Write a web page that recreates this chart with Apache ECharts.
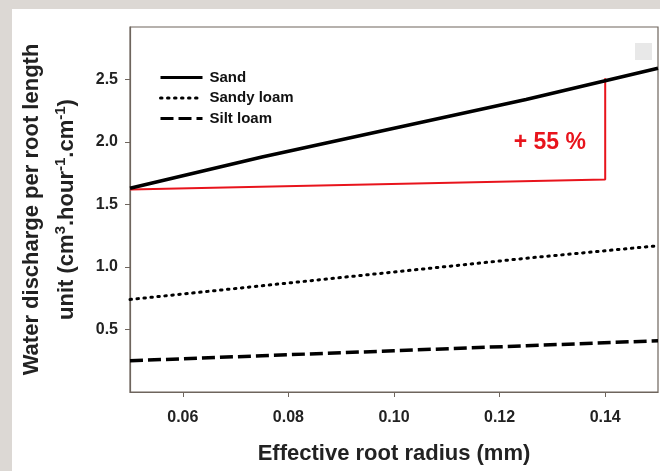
<!DOCTYPE html>
<html>
<head>
<meta charset="utf-8">
<script src="https://cdn.jsdelivr.net/npm/echarts@6/dist/echarts.min.js"></script>
<style>
html,body{margin:0;padding:0;background:#dcd8d4;width:660px;height:471px;overflow:hidden;}
#chart{position:absolute;left:12px;top:9px;width:648px;height:462px;background:#ffffff;}
</style>
</head>
<body>
<div id="chart"></div>
<script>
// ---- data ----
const radius = [0.05, 0.075, 0.10, 0.125, 0.15];
const sand = [1.63, 1.88, 2.11, 2.34, 2.59];
const sandyLoam = [0.74, 0.85, 0.96, 1.07, 1.17];
const siltLoam = [0.25, 0.29, 0.33, 0.37, 0.41];
const seriesNames = ['Sand', 'Sandy loam', 'Silt loam'];
const annoX = [0.05, 0.14, 0.14];
const annoY = [1.62, 1.70, 2.51];
const annoText = '+ 55 %';
const annoLabelPos = [0.1295, 1.995];
const xTicks = [0.06, 0.08, 0.10, 0.12, 0.14];
const yTicks = [0.5, 1.0, 1.5, 2.0, 2.5];

const pair = (xs, ys) => xs.map((x, i) => [x, ys[i]]);
const chart = echarts.init(document.getElementById('chart'));
const font = 'Liberation Sans, Arial, sans-serif';
const axisCol = '#6e655d';
const red = '#e8141c';

chart.setOption({
  animation: false,
  grid: {left: 118, top: 18, right: 2, bottom: 79, show: true, borderColor: axisCol, borderWidth: 1.2,
    backgroundColor: '#fff', containLabel: false, outerBoundsMode: 'none'},
  legend: {
    data: seriesNames, orient: 'vertical', left: 147, top: 61, padding: 0,
    itemWidth: 42, itemHeight: 14, itemGap: 5.5,
    itemStyle: {opacity: 0},
    lineStyle: {width: 3},
    textStyle: {fontFamily: font, fontWeight: 'bold', fontSize: 15, color: '#111', padding: [0, 0, 0, 2]}
  },
  xAxis: {
    type: 'value', min: 0.05, max: 0.15,
    name: 'Effective root radius (mm)', nameLocation: 'middle', nameGap: 51,
    nameTextStyle: {fontFamily: font, fontWeight: 'bold', fontSize: 22, color: '#222'},
    axisLine: {lineStyle: {color: axisCol, width: 1.2}},
    axisTick: {customValues: xTicks, length: 5, lineStyle: {color: axisCol}},
    axisLabel: {customValues: xTicks, formatter: v => v.toFixed(2), margin: 18,
      fontFamily: font, fontWeight: 'bold', fontSize: 16, color: '#222'},
    splitLine: {show: false}
  },
  yAxis: {
    type: 'value', min: 0, max: 2.92,
    name: '{a|Water discharge per root length}\n{a|unit (cm}{s|3}{a|.hour}{s|-1}{a|.cm}{s|-1}{a|)}',
    nameLocation: 'middle', nameRotate: 90, nameGap: 42,
    nameTextStyle: {
      fontFamily: font, fontWeight: 'bold', fontSize: 22, color: '#222', lineHeight: 35,
      rich: {
        a: {fontFamily: font, fontWeight: 'bold', fontSize: 22, color: '#222', lineHeight: 35},
        s: {fontFamily: font, fontWeight: 'bold', fontSize: 15, color: '#222', lineHeight: 35, verticalAlign: 'top', padding: [4, 0, 0, 0]}
      }
    },
    axisLine: {show: true, lineStyle: {color: axisCol, width: 1.2}},
    axisTick: {show: true, customValues: yTicks, length: 5, lineStyle: {color: axisCol}},
    axisLabel: {customValues: yTicks, formatter: v => v.toFixed(1), margin: 12,
      fontFamily: font, fontWeight: 'bold', fontSize: 16, color: '#222'},
    splitLine: {show: false}
  },
  graphic: [
    {type: 'rect', left: 623, top: 34, shape: {width: 17, height: 17}, style: {fill: '#e8e8e8'}, z: 100}
  ],
  series: [
    {name: seriesNames[0], type: 'line', data: pair(radius, sand), showSymbol: false, symbol: 'none',
      lineStyle: {color: '#000', width: 3.5}, itemStyle: {color: '#000'}, z: 3},
    {name: seriesNames[1], type: 'line', data: pair(radius, sandyLoam), showSymbol: false, symbol: 'none',
      lineStyle: {color: '#000', width: 3, type: [1.5, 5.5], cap: 'round'}, itemStyle: {color: '#000'}},
    {name: seriesNames[2], type: 'line', data: pair(radius, siltLoam), showSymbol: false, symbol: 'none',
      lineStyle: {color: '#000', width: 3.5, type: [13, 5]}, itemStyle: {color: '#000'}},
    {name: 'annotation', type: 'line', data: pair(annoX, annoY), showSymbol: false, symbol: 'none',
      lineStyle: {color: red, width: 2}, itemStyle: {color: red}, z: 2,
      markPoint: {
        symbol: 'rect', symbolSize: 1,
        itemStyle: {color: 'rgba(0,0,0,0)'},
        data: [{coord: annoLabelPos, value: annoText}],
        label: {show: true, formatter: annoText, color: red, fontFamily: font, fontWeight: 'bold', fontSize: 23, position: 'inside'}
      }
    }
  ]
});
</script>
</body>
</html>
